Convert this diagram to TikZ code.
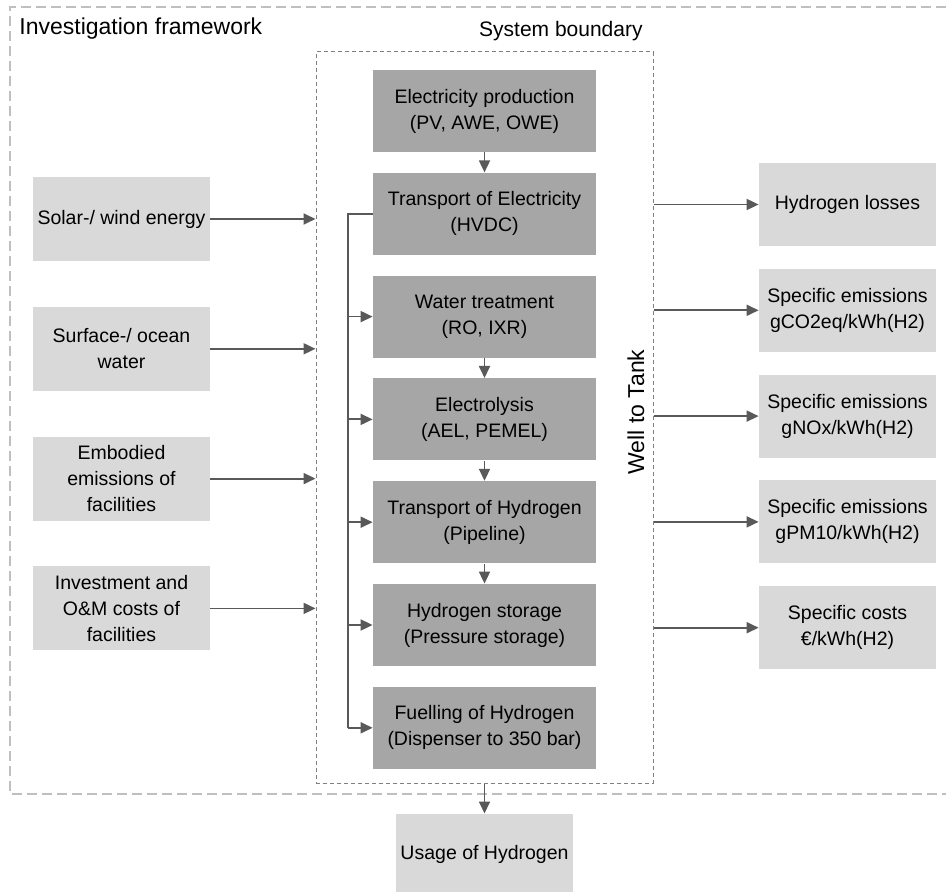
\documentclass[tikz,border=0pt]{standalone}
\usepackage{fontspec}
\setmainfont{Liberation Sans}
\usepackage{xcolor}
\usetikzlibrary{shapes,arrows.meta,positioning}

\definecolor{stagegray}{HTML}{A6A6A6}
\definecolor{boxgray}{HTML}{D9D9D9}
\definecolor{arrowgray}{HTML}{595959}

\begin{document}
\begin{tikzpicture}[node distance=10pt,
  every node/.style={font=\fontsize{9.75}{13}\selectfont, align=center},
  stage/.style={rectangle, fill=stagegray, minimum width=111.5pt, minimum height=41pt, inner sep=0pt},
  inbox/.style={rectangle, fill=boxgray, minimum width=88.5pt, minimum height=42pt, inner sep=0pt},
  outbox/.style={rectangle, fill=boxgray, minimum width=88.5pt, minimum height=41.5pt, inner sep=0pt},
  flow/.style={draw=arrowgray, line width=0.9pt, -{Triangle[length=6pt,width=5.5pt]}},
  busline/.style={draw=arrowgray, line width=0.9pt},
  boundary/.style={draw=gray, dash pattern=on 2pt off 1.5pt, line width=0.5pt},
  framebox/.style={draw=lightgray, dash pattern=on 5pt off 2.5pt, line width=0.6pt},
  title/.style={font=\fontsize{11.5}{14}\selectfont, inner sep=0pt}]

\useasboundingbox (0,0) rectangle (473pt,-446pt);

\draw[framebox] (473pt,-3.5pt) -- (5pt,-3.5pt) -- (5pt,-397pt) -- (473pt,-397pt);
\node (framework) [title, anchor=base west] at (9.5pt,-17.5pt) {Investigation framework};

\node (sysbound) [boundary, minimum width=168.5pt, minimum height=365.5pt] at (242.25pt,-208.75pt) {};
\node (systitle) [title, font=\fontsize{10.5}{13}\selectfont, anchor=base east] at (321.5pt,-18.5pt) {System boundary};
\node (wtt) [title, rotate=90] at (318pt,-206pt) {Well to Tank};

\node (elprod) [stage] at (242.25pt,-55.5pt) {Electricity production\\(PV, AWE, OWE)};
\node (transel) [stage, below=of elprod] {Transport of Electricity\\(HVDC)};
\node (water) [stage, below=of transel] {Water treatment\\(RO, IXR)};
\node (electro) [stage, below=of water] {Electrolysis\\(AEL, PEMEL)};
\node (transh) [stage, below=of electro] {Transport of Hydrogen\\(Pipeline)};
\node (storage) [stage, below=of transh] {Hydrogen storage\\(Pressure storage)};
\node (fuel) [stage, below=of storage] {Fuelling of Hydrogen\\(Dispenser to 350 bar)};

\node (solar) [inbox] at (60.75pt,-109.5pt) {Solar-/ wind energy};
\node (surface) [inbox, below=22.5pt of solar] {Surface-/ ocean\\water};
\node (embodied) [inbox, below=22.5pt of surface] {Embodied\\emissions of\\facilities};
\node (invest) [inbox, below=22.5pt of embodied] {Investment and\\O\&M costs of\\facilities};

\node (hloss) [outbox] at (423.75pt,-102.25pt) {Hydrogen losses};
\node (co2) [outbox, below=11pt of hloss] {Specific emissions\\gCO2eq/kWh(H2)};
\node (nox) [outbox, below=11pt of co2] {Specific emissions\\gNOx/kWh(H2)};
\node (pm) [outbox, below=11pt of nox] {Specific emissions\\gPM10/kWh(H2)};
\node (cost) [outbox, below=11pt of pm] {Specific costs\\€/kWh(H2)};

\node (usage) [inbox, minimum height=41pt, below=15pt of sysbound] {Usage of Hydrogen};

\draw[flow] (elprod) -- (transel);
\draw[flow] (water) -- (electro);
\draw[flow] (electro) -- (transh);
\draw[flow] (transh) -- (storage);

\coordinate (bus) at (174pt,0pt);
\draw[busline] (transel.west) -- (transel.west -| bus) -- (fuel.west -| bus);
\foreach \n in {water,electro,transh,storage,fuel}
  \draw[flow] (\n.west -| bus) -- (\n.west);

\foreach \n in {solar,surface,embodied,invest}
  \draw[flow] (\n.east) -- (\n.east -| sysbound.west);

\foreach \n in {hloss,co2,nox,pm,cost}
  \draw[flow] (sysbound.east |- \n.west) -- (\n.west);

\draw[flow] (usage.north |- sysbound.south) -- (usage.north);
\end{tikzpicture}
\end{document}
